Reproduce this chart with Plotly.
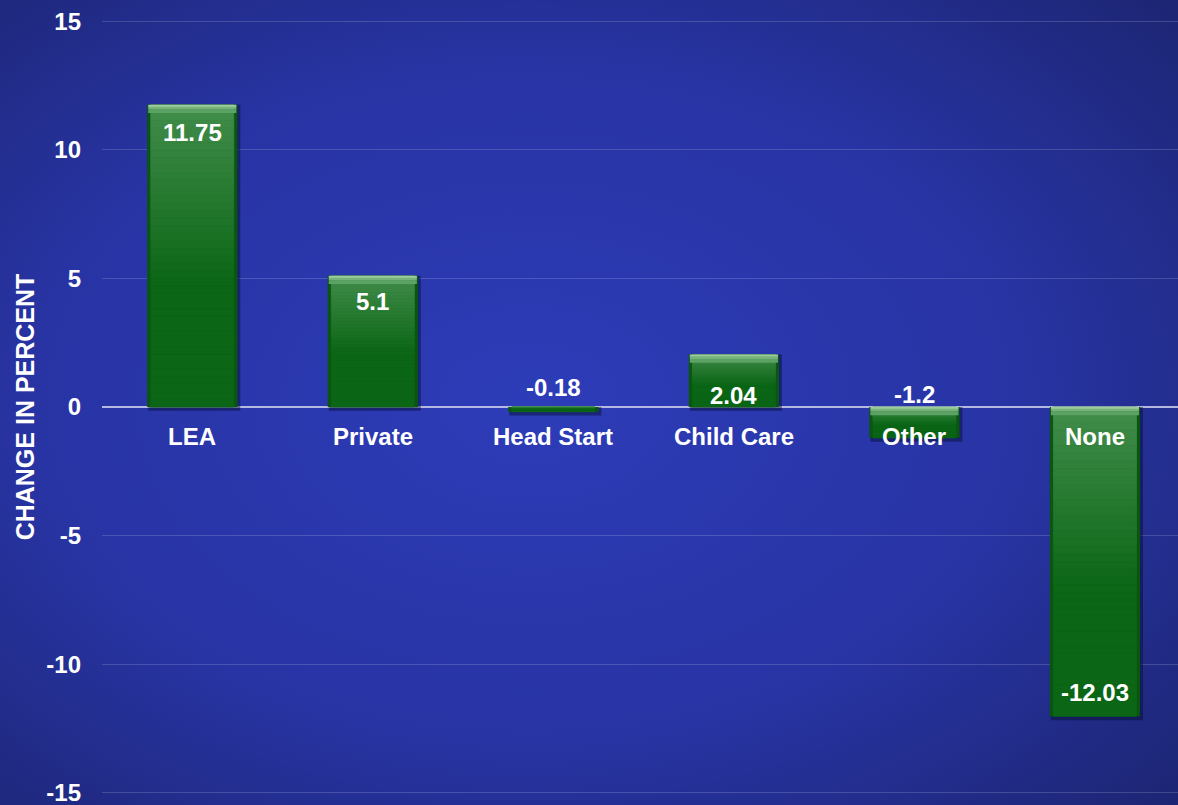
import base64
import plotly.graph_objects as go

# Change in enrollment share by program type
categories = ["LEA", "Private", "Head Start", "Child Care", "Other", "None"]
changes = [11.75, 5.1, -0.18, 2.04, -1.2, -12.03]

# y-axis ticks (plain hyphen for negatives)
tick_values = [-15, -10, -5, 0, 5, 10, 15]
tick_labels = ["-15", "-10", "-5", "0", "5", "10", "15"]

# vertical pixel shift of each value label relative to the bar end
label_shift = [-28, -26, 24, -41, 43, 24]

FONT = "Liberation Sans"
LIGHT = (0x42, 0x8d, 0x4b)
DARK = (0x0b, 0x66, 0x16)
N_SEG = 40
BAR_W = 0.5


def mix(a, b, t):
    return "rgb(%d,%d,%d)" % tuple(round(a[i] + (b[i] - a[i]) * t) for i in range(3))


tops = [max(v, 0) for v in changes]
bottoms = [min(v, 0) for v in changes]
heights = [t - b for t, b in zip(tops, bottoms)]

fig = go.Figure()

# soft drop shadow behind each bar
fig.add_trace(go.Bar(
    x=categories, y=[h + 0.15 for h in heights], base=[b - 0.15 for b in bottoms],
    width=BAR_W + 0.01, offset=-BAR_W / 2 + 0.006,
    marker=dict(color="rgba(5,10,45,0.45)", line=dict(width=0)),
    hoverinfo="skip", showlegend=False,
))

# dark side edges
fig.add_trace(go.Bar(
    x=categories, y=heights, base=bottoms, width=BAR_W,
    marker=dict(color="#0a5512", line=dict(width=0)),
    hoverinfo="skip", showlegend=False,
))

# vertical gradient fill, light at the top of each bar
for k in range(N_SEG):
    frac = (k + 0.5) / N_SEG
    t = min(frac / 0.6, 1.0)
    c = mix(LIGHT, DARK, t)
    fig.add_trace(go.Bar(
        x=categories,
        y=[h / N_SEG for h in heights],
        base=[top - (k + 1) * h / N_SEG for top, h in zip(tops, heights)],
        width=BAR_W - 0.04,
        marker=dict(color=c, line=dict(width=0.8, color=c)),
        hoverinfo="skip", showlegend=False,
    ))

# bevel highlight along the top edge
bevel = [0.07, 0.1, 0.15]
bevel_colors = ["#9ccc9e", "#76b27a", "#5ca264"]
off = 0.0
for bh, bc in zip(bevel, bevel_colors):
    fig.add_trace(go.Bar(
        x=categories,
        y=[bh if h > 0.8 else 0 for h in heights],
        base=[top - off - bh for top in tops],
        width=BAR_W - 0.012,
        marker=dict(color=bc, line=dict(width=0)),
        hoverinfo="skip", showlegend=False,
    ))
    off += bh

annotations = []
for cat, v, dy in zip(categories, changes, label_shift):
    annotations.append(dict(
        x=cat, y=v, xref="x", yref="y", text=f"<b>{v:g}</b>", showarrow=False,
        yshift=dy, font=dict(family=FONT, size=24, color="white"),
    ))
    annotations.append(dict(
        x=cat, y=0, xref="x", yref="y", text=f"<b>{cat}</b>", showarrow=False,
        yshift=-29, font=dict(family=FONT, size=24, color="white"),
    ))

svg = (
    "<svg xmlns='http://www.w3.org/2000/svg' width='1178' height='805'>"
    "<defs><radialGradient id='g' cx='0.45' cy='0.5' r='0.75'>"
    "<stop offset='0' stop-color='#2d3cb8'/>"
    "<stop offset='0.55' stop-color='#2834a4'/>"
    "<stop offset='1' stop-color='#1c2572'/>"
    "</radialGradient></defs>"
    "<rect width='1178' height='805' fill='url(#g)'/></svg>"
)
bg_uri = "data:image/svg+xml;base64," + base64.b64encode(svg.encode()).decode()

W, H = 1178, 805
ML, MR, MT, MB = 102, 0, 20, 11
pw, ph = W - ML - MR, H - MT - MB

fig.update_layout(
    width=W, height=H,
    margin=dict(l=ML, r=MR, t=MT, b=MB),
    barmode="overlay",
    paper_bgcolor="#222c88",
    plot_bgcolor="rgba(0,0,0,0)",
    showlegend=False,
    annotations=annotations,
    images=[dict(
        source=bg_uri, xref="paper", yref="paper",
        x=-ML / pw, y=1 + MT / ph, sizex=W / pw, sizey=H / ph,
        xanchor="left", yanchor="top", sizing="stretch", layer="below",
    )],
    xaxis=dict(
        range=[-0.5, 5.46], showticklabels=False, showgrid=False,
        zeroline=False, showline=False, fixedrange=True,
    ),
    yaxis=dict(
        range=[-15.05, 15.05], tickmode="array",
        tickvals=tick_values, ticktext=[f"<b>{s}</b>" for s in tick_labels],
        showgrid=True, gridcolor="rgba(255,255,255,0.16)", gridwidth=1,
        zeroline=True, zerolinecolor="rgba(205,208,235,0.85)", zerolinewidth=2,
        showline=False, ticks="", ticklabelstandoff=20,
        ticklabeloverflow="allow",
        tickfont=dict(family=FONT, size=24, color="white"),
        title=dict(text="<b>CHANGE IN PERCENT</b>", standoff=4,
                   font=dict(family=FONT, size=25, color="white")),
    ),
)

fig.write_html("out.html")
